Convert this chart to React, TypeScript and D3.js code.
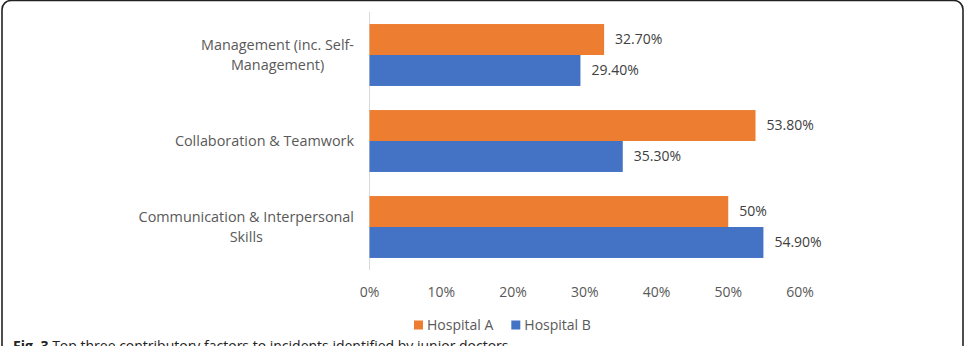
import { useRef, useEffect } from 'react';
import * as d3 from 'd3';

const categories = [
  'Management (inc. Self-Management)',
  'Collaboration & Teamwork',
  'Communication & Interpersonal Skills',
];
const categoryLines = [
  ['Management (inc. Self-', 'Management)'],
  ['Collaboration & Teamwork'],
  ['Communication & Interpersonal', 'Skills'],
];
const series = ['Hospital A', 'Hospital B'];
const hospitalA = [0.327, 0.538, 0.5];
const hospitalB = [0.294, 0.353, 0.549];
const xTicks = [0, 0.1, 0.2, 0.3, 0.4, 0.5, 0.6];
const caption = 'Top three contributory factors to incidents identified by junior doctors';

const colors = ['#ed7d31', '#4472c4'];
const font = "'Open Sans', sans-serif";

function App() {
  const svgRef = useRef<SVGSVGElement>(null);
  const width = 979;
  const height = 346;

  useEffect(() => {
    const svg = d3.select(svgRef.current);
    svg.selectAll('*').remove();

    const x = d3.scaleLinear().domain([0, 0.6]).range([369.5, 800]);
    const y = d3
      .scaleBand()
      .domain(categories)
      .range([12, 270])
      .paddingInner(0.28)
      .paddingOuter(0.14);
    const y1 = d3.scaleBand().domain(series).range([0, y.bandwidth()]);

    // panel border
    svg
      .append('rect')
      .attr('x', 2)
      .attr('y', 0.5)
      .attr('width', 961)
      .attr('height', 420)
      .attr('rx', 9)
      .attr('fill', 'none')
      .attr('stroke', '#222')
      .attr('stroke-width', 1.6);

    // axis line
    svg
      .append('line')
      .attr('x1', x(0))
      .attr('x2', x(0))
      .attr('y1', 12)
      .attr('y2', 270)
      .attr('stroke', '#d9d9d9')
      .attr('stroke-width', 1);

    const rows = categories.map((c, i) => ({
      cat: c,
      values: [hospitalA[i], hospitalB[i]],
    }));

    const fmt = (v: number) =>
      Math.abs(v * 100 - Math.round(v * 100)) < 1e-9 && Math.round(v * 100) % 10 === 0
        ? d3.format('.0%')(v)
        : d3.format('.2%')(v);

    const groups = svg
      .selectAll('g.cat')
      .data(rows)
      .join('g')
      .attr('class', 'cat')
      .attr('transform', (d) => `translate(0,${y(d.cat)})`);

    groups
      .selectAll('rect')
      .data((d) => d.values.map((v, j) => ({ v, s: series[j], j })))
      .join('rect')
      .attr('x', x(0))
      .attr('y', (d) => y1(d.s)!)
      .attr('width', (d) => x(d.v) - x(0))
      .attr('height', y1.bandwidth())
      .attr('fill', (d) => colors[d.j]);

    groups
      .selectAll('text.val')
      .data((d) => d.values.map((v, j) => ({ v, s: series[j] })))
      .join('text')
      .attr('class', 'val')
      .attr('x', (d) => x(d.v) + 11)
      .attr('y', (d) => y1(d.s)! + y1.bandwidth() / 2)
      .attr('dy', '0.35em')
      .attr('font-family', font)
      .attr('font-size', 14)
      .attr('fill', '#404040')
      .text((d) => fmt(d.v));

    // category labels, centred block whose right edge sits at the axis
    categories.forEach((c, i) => {
      const lines = categoryLines[i];
      const t = svg
        .append('text')
        .attr('font-family', font)
        .attr('font-size', 14.4)
        .attr('fill', '#595959')
        .attr('text-anchor', 'middle');
      const cy = y(c)! + y.bandwidth() / 2;
      const lh = 20;
      lines.forEach((l, k) => {
        t.append('tspan')
          .attr('y', cy + (k - (lines.length - 1) / 2) * lh)
          .attr('dy', '0.35em')
          .text(l);
      });
      let maxW = 0;
      t.selectAll<SVGTSpanElement, unknown>('tspan').each(function () {
        maxW = Math.max(maxW, this.getComputedTextLength());
      });
      t.selectAll('tspan').attr('x', 354 - maxW / 2);
    });

    // x tick labels
    svg
      .selectAll('text.tick')
      .data(xTicks)
      .join('text')
      .attr('class', 'tick')
      .attr('x', (d) => x(d))
      .attr('y', 292)
      .attr('dy', '0.35em')
      .attr('text-anchor', 'middle')
      .attr('font-family', font)
      .attr('font-size', 14)
      .attr('fill', '#595959')
      .text((d) => d3.format('.0%')(d));

    // legend
    const legend = svg.append('g').attr('transform', 'translate(414,325)');
    let lx = 0;
    series.forEach((s, i) => {
      legend
        .append('rect')
        .attr('x', lx)
        .attr('y', -4.5)
        .attr('width', 9)
        .attr('height', 9)
        .attr('fill', colors[i]);
      const t = legend
        .append('text')
        .attr('x', lx + 13)
        .attr('dy', '0.35em')
        .attr('font-family', font)
        .attr('font-size', 14)
        .attr('fill', '#595959')
        .text(s);
      lx += 13 + (t.node() as SVGTextElement).getComputedTextLength() + 18;
    });

    // caption (cut off by the bottom edge, as in the source figure)
    const cap = svg
      .append('text')
      .attr('x', 13)
      .attr('y', 351)
      .attr('font-family', font)
      .attr('font-size', 14)
      .attr('fill', '#222');
    cap.append('tspan').attr('font-weight', 700).text('Fig. 3');
    cap.append('tspan').text(' ' + caption);
  }, []);

  return (
    <svg
      ref={svgRef}
      width={width}
      height={height}
      style={{ position: 'absolute', left: 0, top: 0, background: '#fff' }}
    ></svg>
  );
}

export default App;
